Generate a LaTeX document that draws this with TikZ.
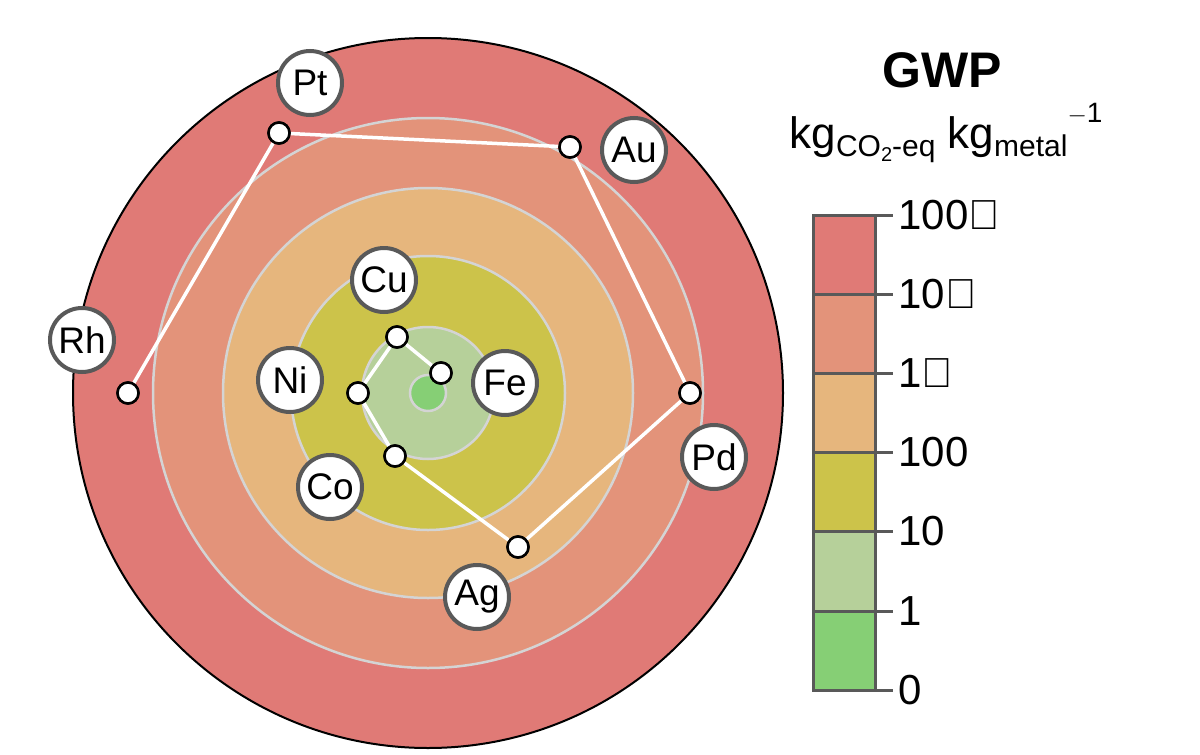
\documentclass[tikz,border=0pt]{standalone}
\usepackage{fontspec}
\setmainfont{Liberation Sans}
\newcommand{\sbs}[1]{\raisebox{-0.35ex}{\fontsize{30}{30}\selectfont #1}}
\newcommand{\ap}{\char"0027}
\begin{document}
\begin{tikzpicture}[x=1pt,y=-1pt,
  lab/.style={circle,draw=black!65,line width=4pt,fill=white,minimum size=64pt,inner sep=0pt,font=\fontsize{37}{37}\selectfont},
  pt/.style={circle,draw=black,line width=2.5pt,fill=white,minimum size=21pt,inner sep=0pt},
  ring/.style={draw=black!17,line width=2.5pt},
  seg/.style={draw=black!65,line width=3pt},
  tk/.style={font=\fontsize{42}{42}\selectfont,anchor=west}]
\useasboundingbox (0,0) rectangle (1200,755);
\definecolor{c1}{HTML}{E07A76}
\definecolor{c2}{HTML}{E3937A}
\definecolor{c3}{HTML}{E6B67D}
\definecolor{c4}{HTML}{CCC34A}
\definecolor{c5}{HTML}{B6D09A}
\definecolor{c6}{HTML}{86CF75}
\coordinate (O) at (428,393);
\fill[c1] (O) circle (355);
\fill[c2,ring] (O) circle (275);
\fill[c3,ring] (O) circle (205);
\fill[c4,ring] (O) circle (137);
\fill[c5,ring] (O) circle (66);
\fill[c6,ring] (O) circle (18);
\draw[black,line width=2pt] (O) circle (355);
% points
\node[pt] (pRh) at (128,393) {};
\node[pt] (pPt) at (279,133) {};
\node[pt] (pAu) at (570,147) {};
\node[pt] (pPd) at (690,393) {};
\node[pt] (pAg) at (518,547) {};
\node[pt] (pCo) at (395,456) {};
\node[pt] (pNi) at (358,393) {};
\node[pt] (pCu) at (397,337) {};
\node[pt] (pFe) at (441,373) {};
\draw[white,line width=3.5pt] (pRh)--(pPt)--(pAu)--(pPd)--(pAg)--(pCo)--(pNi)--(pCu)--(pFe);
\foreach \n in {pRh,pPt,pAu,pPd,pAg,pCo,pNi,pCu,pFe} \node[pt] at (\n) {};
% labels
\node[lab] (Rh) at (82,340) {Rh};
\node[lab] (Pt) at (310,83) {Pt};
\node[lab] (Au) at (634,150) {Au};
\node[lab] (Pd) at (714,457) {Pd};
\node[lab] (Ag) at (477,597) {Ag};
\node[lab] (Co) at (330,487) {Co};
\node[lab] (Ni) at (290,380) {Ni};
\node[lab] (Cu) at (384,280) {Cu};
\node[lab] (Fe) at (505,383) {Fe};
% legend
\node[font=\fontsize{50}{50}\selectfont\bfseries] (gwp) at (942,70) {GWP};
\node[font=\fontsize{44}{44}\selectfont] (unit) at (946,133) {kg\sbs{CO\raisebox{-0.3ex}{\fontsize{20}{20}\selectfont 2}-eq} kg\sbs{metal}\raisebox{1.1ex}{\fontsize{28}{28}\selectfont $-$1}};
\foreach \c/\a/\b in {c1/215/294,c2/294/373,c3/373/452,c4/452/531,c5/531/611,c6/611/690}
  \fill[\c] (813,\a) rectangle (875,\b);
\foreach \y in {294,373,452,531,611} \draw[seg] (813,\y)--(875,\y);
\draw[seg] (813,215) rectangle (875,690);
\foreach \y/\t in {215/100\ap000,294/10\ap000,373/1\ap000,452/100,531/10,611/1,690/0} {
  \draw[seg] (875,\y)--(893,\y);
  \node[tk] at (895,\y) {\t};}
\end{tikzpicture}
\end{document}
